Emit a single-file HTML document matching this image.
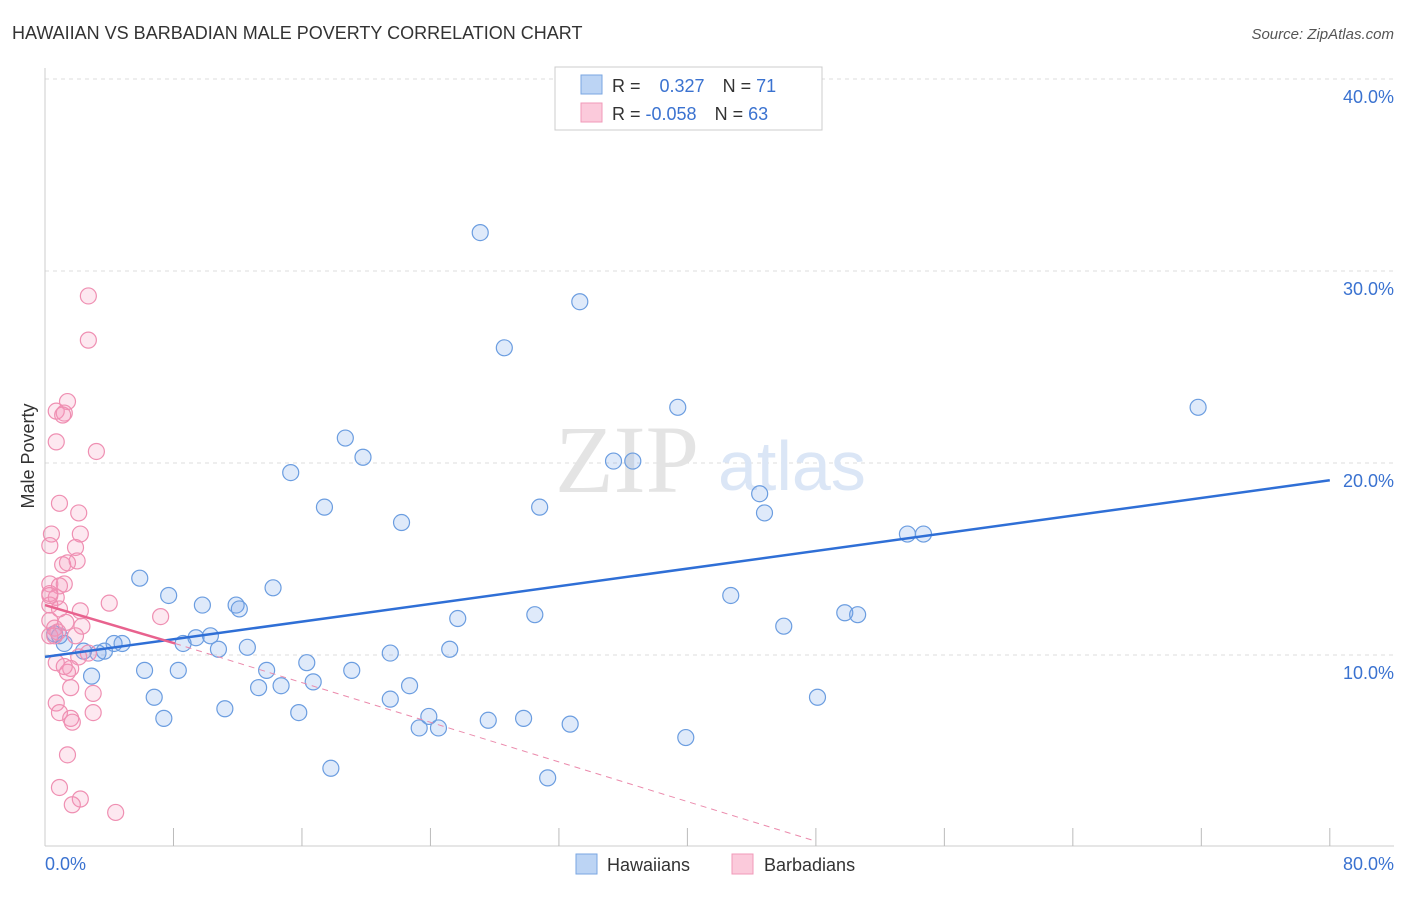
<!DOCTYPE html>
<html><head><meta charset="utf-8"><style>
body{margin:0;background:#fff;font-family:"Liberation Sans",sans-serif}
</style></head><body>
<svg width="1406" height="892" xmlns="http://www.w3.org/2000/svg" font-family="Liberation Sans, sans-serif">
<text x="12" y="39" font-size="18" fill="#333">HAWAIIAN VS BARBADIAN MALE POVERTY CORRELATION CHART</text>
<text x="1394" y="39" font-size="15" fill="#555" text-anchor="end" font-style="italic">Source: ZipAtlas.com</text>
<g id="grid"></g>
<text x="555" y="492" font-size="96" fill="#e4e4e4" font-family="Liberation Serif, serif">ZIP</text>
<text x="718" y="490" font-size="70" fill="#dbe6f6">atlas</text>
<line x1="45" y1="68" x2="45" y2="846" stroke="#ccc"/>
<line x1="45" y1="846" x2="1394" y2="846" stroke="#ccc"/>
<g id="ticks"></g>
<g id="ylabels"></g>
<text x="45" y="870" font-size="18" fill="#3a72d0">0.0%</text>
<text x="1394" y="870" font-size="18" fill="#3a72d0" text-anchor="end">80.0%</text>
<text transform="translate(34,456) rotate(-90)" font-size="18" fill="#333" text-anchor="middle">Male Poverty</text>
<g id="pts"></g>
<g id="lines"></g>
<g>
<rect x="555" y="67" width="267" height="63" fill="#fff" stroke="#ccc"/>
<rect x="581" y="75" width="21" height="19" fill="#bcd4f4" stroke="#7aa6e2"/>
<rect x="581" y="103" width="21" height="19" fill="#fbcadb" stroke="#f09ab8"/>
<text x="612" y="92" font-size="18" fill="#333">R = <tspan fill="#3a72d0" dx="14">0.327</tspan><tspan fill="#333" dx="18">N = </tspan><tspan fill="#3a72d0">71</tspan></text>
<text x="612" y="120" font-size="18" fill="#333">R = <tspan fill="#3a72d0">-0.058</tspan><tspan fill="#333" dx="18">N = </tspan><tspan fill="#3a72d0">63</tspan></text>
</g>
<g>
<rect x="576" y="854" width="21" height="20" fill="#bcd4f4" stroke="#7aa6e2"/>
<text x="607" y="871" font-size="18" fill="#333">Hawaiians</text>
<rect x="732" y="854" width="21" height="20" fill="#fbcadb" stroke="#f09ab8"/>
<text x="764" y="871" font-size="18" fill="#333">Barbadians</text>
</g>
</svg>
<script>
const yTicks=[10,20,30,40];
const xTicks=[0,8,16,24,32,40,48,56,64,72,80];
const hawX=[27.1,33.3,28.6,39.4,71.8,18.7,19.8,15.3,35.4,36.6,44.5,44.8,17.4,30.8,22.2,53.7,54.7,5.9,7.7,9.8,11.9,12.1,14.2,42.7,49.8,50.6,30.5,25.7,46.0,10.3,9.4,8.6,4.3,4.8,3.7,2.4,3.3,1.2,0.6,0.9,10.8,12.6,21.5,25.2,16.3,13.8,6.2,8.3,19.1,2.9,13.3,14.7,16.7,22.7,6.8,21.5,11.2,15.8,7.4,23.9,27.6,29.8,32.7,23.3,24.5,48.1,39.9,17.8,31.3];
const hawY=[32.0,28.4,26.0,22.9,22.9,21.3,20.3,19.5,20.1,20.1,18.4,17.4,17.7,17.7,16.9,16.3,16.3,14.0,13.1,12.6,12.6,12.4,13.5,13.1,12.2,12.1,12.1,11.9,11.5,11.0,10.9,10.6,10.6,10.6,10.2,10.2,10.1,10.6,11.1,11.0,10.3,10.4,10.1,10.3,9.6,9.2,9.2,9.2,9.2,8.9,8.3,8.4,8.6,8.4,7.8,7.7,7.2,7.0,6.7,6.8,6.6,6.7,6.4,6.2,6.2,7.8,5.7,4.1,3.6];
const barX=[2.7,2.7,1.4,0.7,1.2,1.1,3.2,0.7,0.9,2.1,0.4,2.2,0.3,1.9,1.1,2.0,1.4,0.3,1.2,0.9,0.3,0.7,4.0,2.2,0.3,0.9,7.2,1.3,2.3,0.3,0.6,0.3,0.8,2.7,2.1,0.7,1.6,1.4,1.2,1.6,3.0,0.7,0.9,3.0,1.6,1.7,1.4,0.9,2.2,1.7,4.4,0.3,0.6,1.9];
const barY=[28.7,26.4,23.2,22.7,22.6,22.5,20.6,21.1,17.9,17.4,16.3,16.3,15.7,15.6,14.7,14.9,14.8,13.7,13.7,13.6,13.2,13.0,12.7,12.3,12.6,12.4,12.0,11.7,11.5,11.8,11.4,11.0,11.2,10.1,9.9,9.6,9.3,9.1,9.4,8.3,8.0,7.5,7.0,7.0,6.7,6.5,4.8,3.1,2.5,2.2,1.8,13.1,11.0,11.0];
const X=v=>45+v*16.06, Y=v=>847-v*19.2;
const NS="http://www.w3.org/2000/svg";
function mk(t,a,p){const e=document.createElementNS(NS,t);for(const k in a)e.setAttribute(k,a[k]);p.appendChild(e);return e;}
const grid=document.getElementById('grid'),yl=document.getElementById('ylabels'),tk=document.getElementById('ticks');
yTicks.forEach(v=>{const l=mk('line',{x1:45,x2:1394,y1:Y(v),y2:Y(v),stroke:'#ddd','stroke-dasharray':'4,4'},grid);


const t=mk('text',{x:1394,y:Y(v)+24,'font-size':18,fill:'#3a72d0','text-anchor':'end'},yl);t.textContent=v.toFixed(1)+'%';

});
mk('line',{x1:45,x2:1394,y1:Y(40),y2:Y(40),stroke:'#ddd','stroke-dasharray':'4,4'},grid);
xTicks.slice(1).forEach(v=>{const l=mk('line',{x1:X(v),x2:X(v),y1:828,y2:846,stroke:'#bbb'},tk);

});
const pts=document.getElementById('pts');
hawX.forEach((x,i)=>{const c=mk('circle',{cx:X(x),cy:Y(hawY[i]),r:8,fill:'rgba(110,160,230,0.22)',stroke:'#6b9de0','stroke-width':1.2},pts);

});
barX.forEach((x,i)=>{const c=mk('circle',{cx:X(x),cy:Y(barY[i]),r:8,fill:'rgba(245,150,185,0.22)',stroke:'#ef8fb2','stroke-width':1.2},pts);

});
const ln=document.getElementById('lines');
let a=mk('line',{x1:X(0),y1:Y(9.9),x2:X(80),y2:Y(19.1),stroke:'#2f6fd6','stroke-width':2.5},ln);

a=mk('line',{x1:X(0),y1:Y(12.6),x2:X(8.1),y2:Y(10.6),stroke:'#e8628e','stroke-width':2.5},ln);

a=mk('line',{x1:X(8.1),y1:Y(10.6),x2:X(48),y2:Y(0.3),stroke:'#eb8aac','stroke-width':1,'stroke-dasharray':'6,5'},ln);

</script>
</body></html>
